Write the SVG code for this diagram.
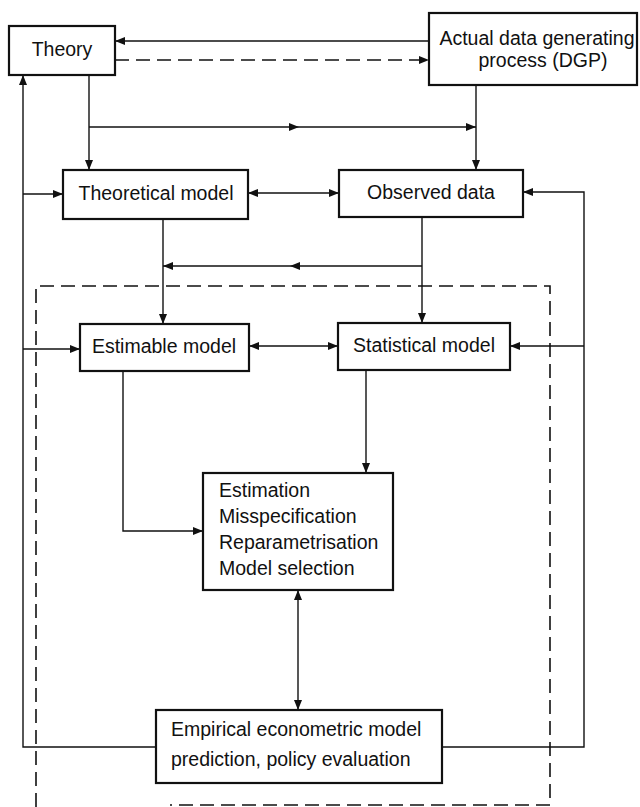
<svg xmlns="http://www.w3.org/2000/svg" width="640" height="807" viewBox="0 0 640 807">
<style>
.box{fill:#fff;stroke:#111;stroke-width:2.2}
.ln{fill:none;stroke:#111;stroke-width:1.4}
.dash{fill:none;stroke:#111;stroke-width:1.6;stroke-dasharray:14 7}
text{font-family:"Liberation Sans",Arial,sans-serif;font-size:19.5px;fill:#111}
.c{text-anchor:middle}
</style>
<defs>
<marker id="ah" viewBox="0 0 10 8" refX="10" refY="4" markerWidth="10" markerHeight="8" markerUnits="userSpaceOnUse" orient="auto-start-reverse">
<path d="M0,0 L10,4 L0,8 Z" fill="#111"/>
</marker>
<marker id="mid" viewBox="0 0 10 8" refX="5" refY="4" markerWidth="10" markerHeight="8" markerUnits="userSpaceOnUse" orient="auto">
<path d="M0,0 L10,4 L0,8 Z" fill="#111"/>
</marker>
</defs>
<g id="frame">
<path class="dash" d="M36,807 V286 H550 V805 H170"/>
</g>
<g id="connectors">
<line class="ln" x1="429" y1="41" x2="115" y2="41" marker-end="url(#ah)"/>
<line class="dash" style="stroke-width:1.4" x1="115" y1="60" x2="429" y2="60" marker-end="url(#ah)"/>
<line class="ln" x1="89" y1="75" x2="89" y2="170" marker-end="url(#ah)"/>
<path class="ln" d="M89,127 H294 H476" marker-mid="url(#mid)" marker-end="url(#ah)"/>
<line class="ln" x1="476" y1="85" x2="476" y2="170" marker-end="url(#ah)"/>
<line class="ln" x1="248" y1="193" x2="339" y2="193" marker-start="url(#ah)" marker-end="url(#ah)"/>
<line class="ln" x1="163" y1="219" x2="163" y2="324" marker-end="url(#ah)"/>
<line class="ln" x1="422" y1="217" x2="422" y2="323" marker-end="url(#ah)"/>
<path class="ln" d="M422,266 H295 H163" marker-mid="url(#mid)" marker-end="url(#ah)"/>
<line class="ln" x1="249" y1="346" x2="338" y2="346" marker-start="url(#ah)" marker-end="url(#ah)"/>
<path class="ln" d="M123,371 V531 H203" marker-end="url(#ah)"/>
<line class="ln" x1="366" y1="370" x2="366" y2="473" marker-end="url(#ah)"/>
<line class="ln" x1="298" y1="590" x2="298" y2="710" marker-start="url(#ah)" marker-end="url(#ah)"/>
<path class="ln" d="M156,747 H23 V75" marker-end="url(#ah)"/>
<line class="ln" x1="23" y1="194" x2="63" y2="194" marker-end="url(#ah)"/>
<line class="ln" x1="23" y1="349" x2="80" y2="349" marker-end="url(#ah)"/>
<path class="ln" d="M442,747 H584 V192 H523" marker-end="url(#ah)"/>
<line class="ln" x1="584" y1="346" x2="510" y2="346" marker-end="url(#ah)"/>
</g>
<g id="theory">
<rect class="box" x="9" y="26" width="106" height="49"/>
<text class="c" x="62" y="56">Theory</text>
</g>
<g id="dgp">
<rect class="box" x="429" y="13" width="208" height="72"/>
<text class="c" x="537" y="45">Actual data generating</text>
<text class="c" x="543" y="67">process (DGP)</text>
</g>
<g id="theoretical-model">
<rect class="box" x="63" y="170" width="185" height="49"/>
<text class="c" x="156" y="200">Theoretical model</text>
</g>
<g id="observed-data">
<rect class="box" x="339" y="170" width="184" height="47"/>
<text class="c" x="431" y="199">Observed data</text>
</g>
<g id="estimable-model">
<rect class="box" x="80" y="324" width="169" height="47"/>
<text class="c" x="164" y="353">Estimable model</text>
</g>
<g id="statistical-model">
<rect class="box" x="338" y="323" width="172" height="47"/>
<text class="c" x="424" y="352">Statistical model</text>
</g>
<g id="estimation">
<rect class="box" x="203" y="473" width="190" height="117"/>
<text x="219" y="497">Estimation</text>
<text x="219" y="523">Misspecification</text>
<text x="219" y="549">Reparametrisation</text>
<text x="219" y="575">Model selection</text>
</g>
<g id="empirical">
<rect class="box" x="156" y="710" width="286" height="73"/>
<text x="171" y="736">Empirical econometric model</text>
<text x="171" y="766">prediction, policy evaluation</text>
</g>
</svg>
